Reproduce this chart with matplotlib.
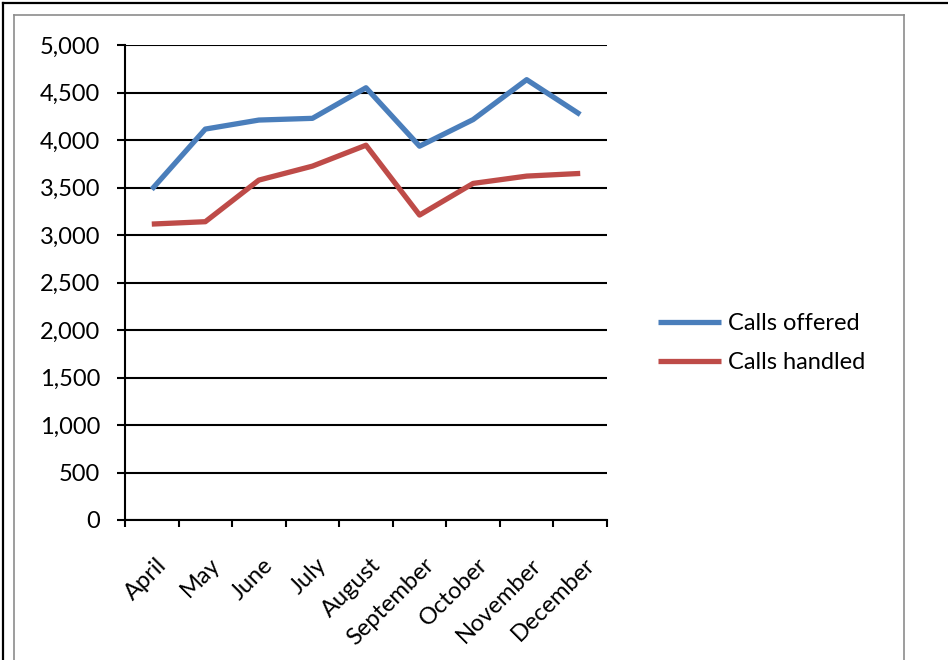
import numpy as np
import matplotlib
matplotlib.use("Agg")
import matplotlib.pyplot as plt
from matplotlib.lines import Line2D
from matplotlib.transforms import ScaledTranslation

months = ["April", "May", "June", "July", "August", "September",
          "October", "November", "December"]
calls_offered = [3480, 4115, 4210, 4228, 4550, 3935, 4215, 4635, 4268]
calls_handled = [3115, 3140, 3578, 3725, 3945, 3210, 3543, 3620, 3648]
y_ticks = [0, 500, 1000, 1500, 2000, 2500, 3000, 3500, 4000, 4500, 5000]

BLUE = "#4A7EBB"
RED = "#BE4B48"
W, H = 948, 660
FS = 17

plt.rcParams["font.family"] = ["Lato", "DejaVu Sans"]

fig = plt.figure(figsize=(W / 100, H / 100), dpi=100)
ax = fig.add_axes([125 / W, 1 - 520 / H, (607 - 125) / W, (520 - 45) / H])

x = np.arange(len(months))
ax.plot(x, calls_offered, color=BLUE, lw=3.8, solid_capstyle="butt",
        solid_joinstyle="round", label="Calls offered", zorder=3)
ax.plot(x, calls_handled, color=RED, lw=3.8, solid_capstyle="butt",
        solid_joinstyle="round", label="Calls handled", zorder=3)

ax.set_xlim(-0.5, len(months) - 0.5)
ax.set_ylim(0, 5000)
ax.set_yticks(y_ticks)
ax.set_yticklabels([f"{v:,}" for v in y_ticks], fontsize=FS)
ax.yaxis.grid(True, color="black", lw=1.5)
ax.set_axisbelow(True)

ax.set_xticks(np.arange(-0.5, len(months), 1))
ax.set_xticklabels([])
ax.set_xticks(x, minor=True)
ax.set_xticklabels(months, minor=True, fontsize=FS, rotation=45,
                   ha="right", va="center", rotation_mode="anchor")
ax.tick_params(axis="x", which="minor", length=0, pad=30)
ax.tick_params(axis="x", which="major", length=5, width=1.5, direction="out")
ax.tick_params(axis="y", length=6, width=1.5, direction="out", pad=12)
shift = ScaledTranslation(8 / 72, 0, fig.dpi_scale_trans)
for lab in ax.get_xticklabels(minor=True):
    lab.set_transform(lab.get_transform() + shift)

for s in ["top", "right"]:
    ax.spines[s].set_visible(False)
for s in ["left", "bottom"]:
    ax.spines[s].set_linewidth(1.5)

fig.legend(loc="center left", bbox_to_anchor=(658 / W, 1 - 343 / H),
           frameon=False, fontsize=FS, handlelength=2.67, handletextpad=0.3,
           labelspacing=0.77, borderpad=0, borderaxespad=0)


def fx(px):
    return px / W


def fy(py):
    return 1 - py / H


# outer black frame (top and left) and inner gray frame
fig.add_artist(Line2D([fx(3), fx(W)], [fy(3), fy(3)], color="black", lw=1.6))
fig.add_artist(Line2D([fx(3), fx(3)], [fy(3), fy(H)], color="black", lw=1.6))
gray = "#8C8C8C"
fig.add_artist(Line2D([fx(14), fx(904)], [fy(15), fy(15)], color=gray, lw=1.2))
fig.add_artist(Line2D([fx(14), fx(14)], [fy(15), fy(H)], color=gray, lw=1.2))
fig.add_artist(Line2D([fx(904), fx(904)], [fy(15), fy(H)], color=gray, lw=1.2))

fig.savefig("out.png", dpi=100)
